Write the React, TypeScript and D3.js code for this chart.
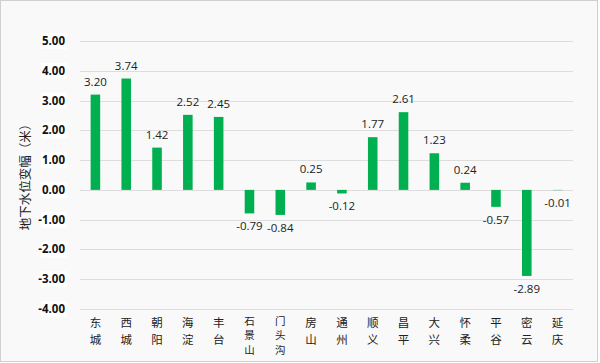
import * as d3 from 'd3';
import { useEffect, useRef } from 'react';

const districts = ['东城', '西城', '朝阳', '海淀', '丰台', '石景山', '门头沟', '房山', '通州', '顺义', '昌平', '大兴', '怀柔', '平谷', '密云', '延庆'];
const changes = [3.2, 3.74, 1.42, 2.52, 2.45, -0.79, -0.84, 0.25, -0.12, 1.77, 2.61, 1.23, 0.24, -0.57, -2.89, -0.01];
const yTicks = [5, 4, 3, 2, 1, 0, -1, -2, -3, -4];
const yTitle = '地下水位变幅（米）';

const fmt = (d: number) => d.toFixed(2);

export default function App() {
  const ref = useRef<SVGSVGElement>(null);

  const width = 600;
  const height = 363;
  const margin = { top: 41, right: 27, bottom: 54, left: 80 };

  useEffect(() => {
    const svg = d3.select(ref.current);
    svg.selectAll('*').remove();

    const x = d3
      .scaleBand(districts, [margin.left, width - margin.right])
      .paddingInner(0.69)
      .paddingOuter(0.345);
    const y = d3.scaleLinear([-4, 5], [height - margin.bottom, margin.top]);

    // background + frame
    svg
      .append('rect')
      .attr('x', 0.5)
      .attr('y', 0.5)
      .attr('width', width - 3)
      .attr('height', height - 2)
      .attr('fill', '#f8f9f8')
      .attr('stroke', '#cfd1d0');

    // grid
    svg
      .append('g')
      .selectAll('line')
      .data(yTicks)
      .join('line')
      .attr('x1', margin.left)
      .attr('x2', width - margin.right)
      .attr('y1', (d) => Math.round(y(d)) + 0.5)
      .attr('y2', (d) => Math.round(y(d)) + 0.5)
      .attr('stroke', '#dcdddc');

    // y tick labels with white boxes
    const tick = svg
      .append('g')
      .selectAll('g')
      .data(yTicks)
      .join('g')
      .attr('transform', (d) => `translate(0, ${y(d)})`);
    tick
      .append('rect')
      .attr('x', 41)
      .attr('y', -8)
      .attr('width', 26)
      .attr('height', 16)
      .attr('fill', '#ffffff');
    tick
      .append('text')
      .attr('x', 65)
      .attr('dy', '0.35em')
      .attr('text-anchor', 'end')
      .attr('font-family', 'Open Sans, Liberation Sans, sans-serif')
      .attr('font-weight', 'bold')
      .attr('font-size', 11.5)
      .attr('fill', '#111')
      .text(fmt);

    // bars
    svg
      .append('g')
      .selectAll('rect')
      .data(changes)
      .join('rect')
      .attr('x', (_, i) => x(districts[i]))
      .attr('width', x.bandwidth())
      .attr('y', (d) => Math.min(y(d), y(0)))
      .attr('height', (d) => Math.abs(y(d) - y(0)))
      .attr('fill', '#00b050');

    // value labels
    svg
      .append('g')
      .selectAll('text')
      .data(changes)
      .join('text')
      .attr('x', (_, i) => x(districts[i]) + x.bandwidth() / 2)
      .attr('y', (d) => (d >= 0 ? y(d) - 13 : y(d) + 13))
      .attr('dy', '0.35em')
      .attr('text-anchor', 'middle')
      .attr('font-family', 'Open Sans, Liberation Sans, sans-serif')
      .attr('font-size', 11.5)
      .attr('fill', '#222')
      .text(fmt);

    // x labels, vertical characters (three-character names are packed tighter)
    const xl = svg
      .append('g')
      .selectAll('text')
      .data(districts)
      .join('text')
      .attr('text-anchor', 'middle')
      .attr('font-family', 'Noto Sans CJK SC, sans-serif')
      .attr('font-size', (d) => (d.length > 2 ? 10.5 : 11.5))
      .attr('fill', '#222');
    xl.each(function (name) {
      const chars = Array.from(name);
      const long = chars.length > 2;
      const step = long ? 14.2 : 17;
      const start = long ? 321.5 : 323;
      d3.select(this)
        .selectAll('tspan')
        .data(chars)
        .join('tspan')
        .attr('x', x(name) + x.bandwidth() / 2)
        .attr('y', (_, j) => start + j * step)
        .attr('dy', '0.35em')
        .text((c) => c);
    });

    // y title
    svg
      .append('text')
      .attr('transform', `translate(26, 174) rotate(-90)`)
      .attr('text-anchor', 'middle')
      .attr('dy', '0.35em')
      .attr('font-family', 'Noto Sans CJK SC, sans-serif')
      .attr('font-size', 12.5)
      .attr('fill', '#222')
      .text(yTitle);
  }, []);

  return (
    <svg
      ref={ref}
      width={width}
      height={height}
      style={{ position: 'absolute', left: 0, top: 0, display: 'block' }}
    ></svg>
  );
}
